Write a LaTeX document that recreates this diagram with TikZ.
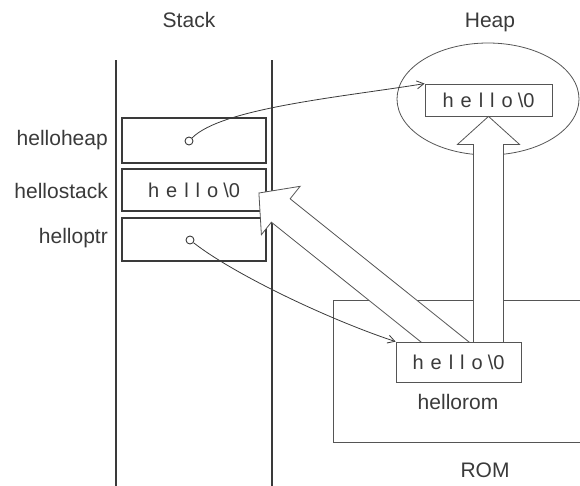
\documentclass[tikz,border=0pt]{standalone}
\usepackage{fontspec}
\setmainfont{Liberation Sans}
\usetikzlibrary{calc,arrows.meta,shapes.geometric}

\definecolor{ink}{HTML}{3A3A3A}
\definecolor{wire}{HTML}{555555}

\pgfdeclarelayer{back}
\pgfdeclarelayer{mid}
\pgfsetlayers{back,mid,main}

% the string "hello\0" with wide letter spacing
\newcommand{\hellozero}{h\kern7pt e\kern7pt l\kern7pt l\kern7pt o\kern5pt\textbackslash0}

% wide hollow arrow from #1 (base, buried under a box) to #2 (tip)
\newcommand{\blockarrow}[2]{%
  \coordinate (ba-s) at ($(#1)!-25pt!(#2)$);
  \coordinate (ba-h) at ($(#2)!28pt!(#1)$);
  \draw[bigarrow]
    ($(ba-s)!15pt!90:(#2)$) -- ($(ba-h)!15pt!90:(#2)$) --
    ($(ba-h)!31pt!90:(#2)$) -- (#2) --
    ($(ba-h)!31pt!-90:(#2)$) -- ($(ba-h)!15pt!-90:(#2)$) --
    ($(ba-s)!15pt!-90:(#2)$) -- cycle;}

\begin{document}
\begin{tikzpicture}[x=1pt,y=-1pt,
  lbl/.style={text=ink,font=\fontsize{21}{24}\selectfont,inner sep=0pt},
  memtext/.style={text=ink,font=\fontsize{20}{24}\selectfont},
  stackbox/.style={draw=ink,line width=1.8pt,minimum width=144pt,inner sep=0pt,memtext},
  thinbox/.style={draw=wire,line width=0.8pt,inner sep=0pt,memtext},
  stackline/.style={draw=ink,line width=1.8pt},
  bigarrow/.style={draw=wire,line width=0.8pt,fill=white,line join=miter},
  ptrdot/.style={circle,draw=ink,line width=0.9pt,fill=white,inner sep=0pt,minimum size=8pt},
  ptrarrow/.style={draw=ink,line width=0.8pt,-{Straight Barb[length=7pt,width=8pt]}}]
\useasboundingbox (0,0) rectangle (580,485);
\clip (0,0) rectangle (580,485);

\begin{pgfonlayer}{back}
  % ROM region and heap region
  \node[thinbox,minimum width=287pt,minimum height=142pt] (rom) at (476.5,371) {};
  \node[ellipse,draw=wire,line width=0.8pt,minimum width=182pt,minimum height=112pt] (heap) at (488,99) {};
  \node[lbl] (romlbl) at (485,470) {ROM};
  \node[lbl] (heaplbl) at (490,22) {Heap};

  % the stack
  \node[lbl] (stacklbl) at (189,20) {Stack};
  \coordinate (sl-top) at (116,60);
  \coordinate (sl-bot) at (116,490);
  \coordinate (sr-top) at (272,60);
  \coordinate (sr-bot) at (272,490);
  \draw[stackline] (sl-top) -- (sl-bot);
  \draw[stackline] (sr-top) -- (sr-bot);

  \node[stackbox,minimum height=45pt] (sheap) at (194,140.5) {};
  \node[stackbox,minimum height=42pt] (sstack) at (194,190) {\hellozero};
  \node[stackbox,minimum height=43pt] (sptr) at (194,239.5) {};

  \node[lbl,anchor=east] (lheap) at (108,140) {helloheap};
  \node[lbl,anchor=east] (lstack) at (108,191) {hellostack};
  \node[lbl,anchor=east] (lptr) at (108,238) {helloptr};
\end{pgfonlayer}

% string buffers in heap and ROM
\node[thinbox,minimum width=127pt,minimum height=32pt] (heapbox) at (488.5,100) {\hellozero};
\node[thinbox,fill=white,minimum width=125pt,minimum height=40pt] (rombox) at (458.5,362) {\hellozero};
\node[lbl] (romname) at (458,402) {hellorom};

% copies out of ROM
\begin{pgfonlayer}{mid}
  \coordinate (up-base) at (rombox.north -| heapbox.south);
  \blockarrow{up-base}{heapbox.south}
  \coordinate (dg-base) at ($(rombox.north)+(-14,0)$);
  \coordinate (dg-tip) at ($(sstack.east)+(-8,3)$);
  \blockarrow{dg-base}{dg-tip}
\end{pgfonlayer}

% pointers
\node[ptrdot] (hpdot) at (189,141) {};
\node[ptrdot] (ptdot) at (190,240) {};
\draw[ptrarrow] (hpdot) .. controls (222,108) and (342,97) .. (heapbox.north west);
\draw[ptrarrow] (ptdot) .. controls (235,275) and (330,320) .. (rombox.north west);
\end{tikzpicture}
\end{document}
